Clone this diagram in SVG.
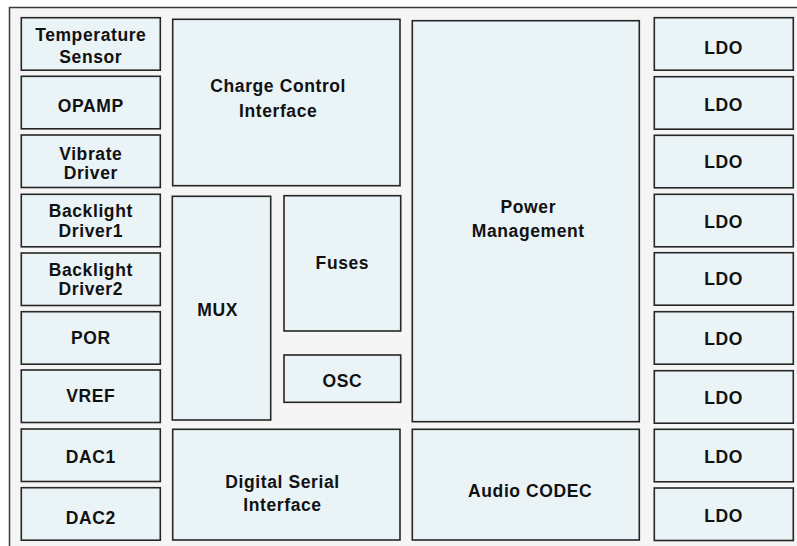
<svg xmlns="http://www.w3.org/2000/svg" width="797" height="546" viewBox="0 0 797 546">
<style>
.frame{fill:#f5f5f5;stroke:#3a3a3a;stroke-width:1.5}
.blk{fill:#eaf3f6;stroke:#262626;stroke-width:1.6}
text{font-family:"Liberation Sans",Arial,Helvetica,sans-serif;font-weight:bold;font-size:17.5px;letter-spacing:0.6px;fill:#111;text-anchor:middle}
</style>
<rect width="797" height="546" fill="#ffffff"/>
<rect class="frame" x="9.5" y="7.5" width="820" height="580"/>
<g id="temperature-sensor"><rect class="blk" x="21.3" y="17.7" width="139" height="52.5"/><text x="90.8" y="40.7">Temperature</text><text x="90.8" y="63.3">Sensor</text></g>
<g id="opamp"><rect class="blk" x="21.3" y="76.3" width="139" height="52.5"/><text x="90.8" y="112.3">OPAMP</text></g>
<g id="vibrate-driver"><rect class="blk" x="21.3" y="135" width="139" height="52.5"/><text x="90.8" y="160">Vibrate</text><text x="90.8" y="179">Driver</text></g>
<g id="backlight-driver1"><rect class="blk" x="21.3" y="194.3" width="139" height="52.5"/><text x="90.8" y="217.3">Backlight</text><text x="90.8" y="236.7">Driver1</text></g>
<g id="backlight-driver2"><rect class="blk" x="21.3" y="253" width="139" height="52.5"/><text x="90.8" y="275.6">Backlight</text><text x="90.8" y="295">Driver2</text></g>
<g id="por"><rect class="blk" x="21.3" y="311.7" width="139" height="52.5"/><text x="90.8" y="344.3">POR</text></g>
<g id="vref"><rect class="blk" x="21.3" y="370" width="139" height="52.5"/><text x="90.8" y="402">VREF</text></g>
<g id="dac1"><rect class="blk" x="21.3" y="429" width="139" height="52.5"/><text x="90.8" y="463.3">DAC1</text></g>
<g id="dac2"><rect class="blk" x="21.3" y="487.7" width="139" height="52.5"/><text x="90.8" y="524.3">DAC2</text></g>
<g id="charge-control"><rect class="blk" x="172.7" y="19.3" width="227.3" height="166.4"/><text x="278.2" y="91.7">Charge Control</text><text x="278.2" y="116.7">Interface</text></g>
<g id="mux"><rect class="blk" x="172.3" y="196.3" width="98.4" height="223.7"/><text x="217.7" y="315.7">MUX</text></g>
<g id="fuses"><rect class="blk" x="284" y="195.7" width="116.7" height="135.3"/><text x="342.4" y="269.3">Fuses</text></g>
<g id="osc"><rect class="blk" x="284" y="355" width="116.7" height="47.3"/><text x="342.4" y="386.7">OSC</text></g>
<g id="digital-serial"><rect class="blk" x="172.7" y="429.3" width="227.3" height="110.7"/><text x="282.5" y="488.3">Digital Serial</text><text x="282.5" y="510.7">Interface</text></g>
<g id="power-management"><rect class="blk" x="412.3" y="20.7" width="227" height="401"/><text x="528.3" y="213.3">Power</text><text x="528.3" y="237.3">Management</text></g>
<g id="audio-codec"><rect class="blk" x="412.3" y="429.3" width="227" height="110.7"/><text x="530.2" y="496.7">Audio CODEC</text></g>
<g id="ldo1"><rect class="blk" x="654.3" y="17.7" width="139" height="52.5"/><text x="723.5" y="54.3">LDO</text></g>
<g id="ldo2"><rect class="blk" x="654.3" y="76.7" width="139" height="52.5"/><text x="723.5" y="111">LDO</text></g>
<g id="ldo3"><rect class="blk" x="654.3" y="135.3" width="139" height="52.5"/><text x="723.5" y="167.7">LDO</text></g>
<g id="ldo4"><rect class="blk" x="654.3" y="194.3" width="139" height="52.5"/><text x="723.5" y="228.3">LDO</text></g>
<g id="ldo5"><rect class="blk" x="654.3" y="252.7" width="139" height="52.5"/><text x="723.5" y="285.3">LDO</text></g>
<g id="ldo6"><rect class="blk" x="654.3" y="311.7" width="139" height="52.5"/><text x="723.5" y="345">LDO</text></g>
<g id="ldo7"><rect class="blk" x="654.3" y="370.7" width="139" height="52.5"/><text x="723.5" y="404">LDO</text></g>
<g id="ldo8"><rect class="blk" x="654.3" y="429.3" width="139" height="52.5"/><text x="723.5" y="463.3">LDO</text></g>
<g id="ldo9"><rect class="blk" x="654.3" y="488" width="139" height="52.5"/><text x="723.5" y="521.7">LDO</text></g>
<g id="connectors"/>
</svg>
